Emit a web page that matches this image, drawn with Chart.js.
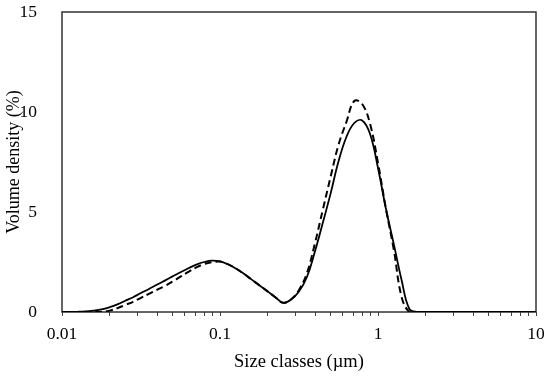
<!DOCTYPE html>
<html>
<head>
<meta charset="utf-8">
<script src="https://cdn.jsdelivr.net/npm/chart.js@4"></script>
<style>
  body { margin: 0; background: #fff; }
</style>
</head>
<body>
<canvas id="psdChart" width="550" height="378"></canvas>
<script>
// Size classes (um), log spaced
let sizes = [0.01, 0.0112, 0.0126, 0.0141, 0.0158, 0.0178, 0.02, 0.0224, 0.0251, 0.0282,
    0.0316, 0.0355, 0.0398, 0.0447, 0.0501, 0.0562, 0.0631, 0.0708, 0.0794, 0.0891,
    0.1, 0.112, 0.126, 0.141, 0.158, 0.178, 0.2, 0.224, 0.251, 0.282,
    0.316, 0.355, 0.398, 0.447, 0.501, 0.562, 0.631, 0.708, 0.794, 0.891,
    1, 1.12, 1.26, 1.41, 1.58, 1.78, 2, 2.24, 2.51, 2.82,
    3.16, 3.55, 3.98, 4.47, 5.01, 5.62, 6.31, 7.08, 7.94, 8.91, 10];

// Volume density (%) - solid curve
let solidValues = [0, 0, 0.01, 0.03, 0.07, 0.13, 0.24, 0.38, 0.56, 0.74,
    0.95, 1.15, 1.36, 1.57, 1.78, 1.99, 2.19, 2.37, 2.50, 2.57,
    2.53, 2.39, 2.18, 1.92, 1.63, 1.33, 1.03, 0.74, 0.46, 0.62,
    1.02, 1.75, 3.0, 4.45, 5.92, 7.52, 8.75, 9.45, 9.58, 8.9,
    7.2, 5.2, 3.38, 1.6, 0.15, 0, 0, 0, 0, 0,
    0, 0, 0, 0, 0, 0, 0, 0, 0, 0, 0];

// Volume density (%) - dashed curve
let dashedValues = [0, 0, 0, 0, 0, 0.01, 0.07, 0.19, 0.35, 0.51,
    0.71, 0.91, 1.10, 1.30, 1.52, 1.77, 2.01, 2.23, 2.40, 2.49,
    2.52, 2.39, 2.18, 1.92, 1.63, 1.33, 1.03, 0.74, 0.46, 0.64,
    1.1, 1.95, 3.4, 5.1, 6.75, 8.35, 9.5, 10.55, 10.4, 9.4,
    7.45, 5.2, 3.1, 0.76, 0, 0, 0, 0, 0, 0,
    0, 0, 0, 0, 0, 0, 0, 0, 0, 0, 0];

// Axis labels
let xMajorTicks = [0.01, 0.1, 1, 10];
let yTicks = [0, 5, 10, 15];

// minor tick marks 1..9 in every decade
let xTicks = [];
for (let d of xMajorTicks.slice(0, -1)) {
    for (let m = 1; m <= 9; m++) xTicks.push(+(d * m).toPrecision(3));
}
xTicks.push(xMajorTicks[xMajorTicks.length - 1]);

const serif = 'Liberation Serif, Times New Roman, serif';

// Box round the plot area
const frame = {
    id: 'frame',
    beforeDatasetsDraw(chart) {
        let { ctx, chartArea: a } = chart;
        ctx.save();
        ctx.strokeStyle = '#333';
        ctx.lineWidth = 1.5;
        ctx.strokeRect(a.left, a.top, a.right - a.left, a.bottom - a.top);
        ctx.restore();
    }
};

const ctx = document.getElementById('psdChart');

new Chart(ctx, {
    type: 'line',
    data: {
        datasets: [{
            label: 'Solid',
            data: sizes.map((s, i) => ({ x: s, y: solidValues[i] })),
            borderColor: '#000',
            borderWidth: 1.8,
            pointRadius: 0,
            tension: 0.4
        }, {
            label: 'Dashed',
            data: sizes.map((s, i) => ({ x: s, y: dashedValues[i] })),
            borderColor: '#000',
            borderWidth: 2,
            borderDash: [7, 4],
            pointRadius: 0,
            tension: 0.4
        }]
    },
    options: {
        responsive: false,
        animation: false,
        layout: { padding: { top: 12, right: 14, left: 0, bottom: 0 } },
        plugins: {
            legend: { display: false },
            tooltip: { enabled: false }
        },
        scales: {
            x: {
                type: 'logarithmic',
                min: 0.01,
                max: 10,
                afterBuildTicks: scale => { scale.ticks = xTicks.map(v => ({ value: v })); },
                afterFit: scale => {
                    scale.height = 66;
                    scale.paddingLeft = 0;
                    scale.paddingRight = 0;
                },
                border: { display: false },
                grid: {
                    drawOnChartArea: false,
                    drawTicks: true,
                    tickLength: 4,
                    tickColor: '#444',
                    tickWidth: 1
                },
                ticks: {
                    autoSkip: false,
                    maxRotation: 0,
                    padding: 8,
                    color: '#000',
                    font: { family: serif, size: 17.5 },
                    callback: value => xMajorTicks.includes(value) ? String(value) : ''
                },
                title: {
                    display: true,
                    text: 'Size classes (µm)',
                    color: '#000',
                    font: { family: serif, size: 18.5 },
                    padding: { top: 0, bottom: 5 }
                }
            },
            y: {
                min: 0,
                max: 15,
                afterBuildTicks: scale => { scale.ticks = yTicks.map(v => ({ value: v })); },
                afterFit: scale => {
                    scale.width = 62;
                    scale.paddingTop = 0;
                    scale.paddingBottom = 0;
                },
                border: { display: false },
                grid: { display: false },
                ticks: {
                    padding: 17,
                    color: '#000',
                    font: { family: serif, size: 17.5 }
                },
                title: {
                    display: true,
                    text: 'Volume density (%)',
                    color: '#000',
                    font: { family: serif, size: 18 },
                    padding: { top: 3, bottom: 0 }
                }
            }
        }
    },
    plugins: [frame]
});
</script>
</body>
</html>
